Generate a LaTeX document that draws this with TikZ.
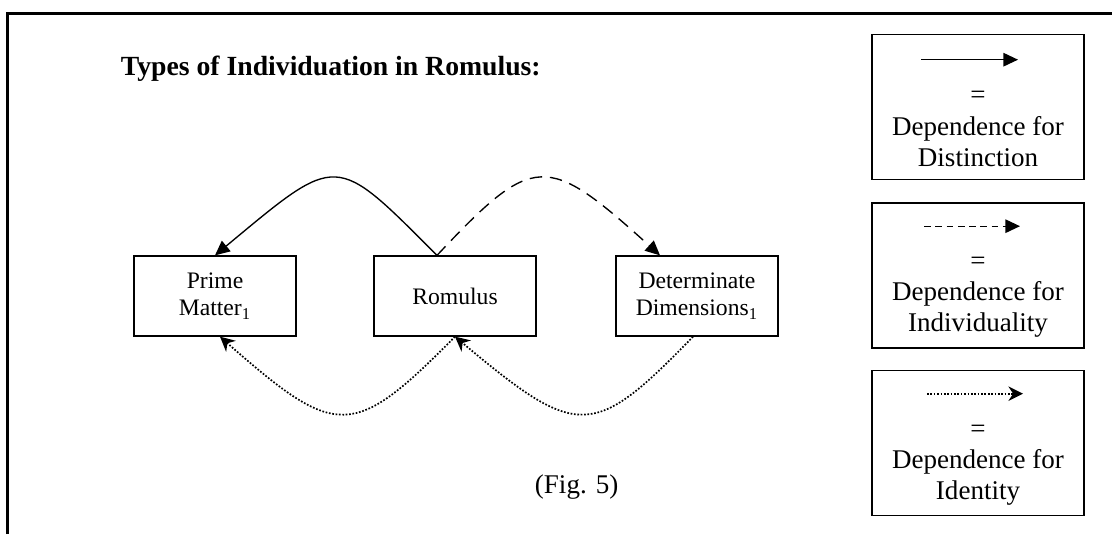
\documentclass[tikz,border=0pt]{standalone}
\usepackage{fontspec}
\setmainfont{Liberation Serif}
\usetikzlibrary{arrows.meta,calc,positioning}
\tikzset{
	ent/.style={draw, line width=0.6pt, minimum width=72pt, minimum height=35.5pt, align=center, inner sep=0pt, font=\fontsize{10.5}{12.4}\selectfont},
	keybox/.style={draw, line width=0.6pt, minimum width=94pt, minimum height=64.5pt, inner sep=0pt},
	keytext/.style={align=center, inner sep=0pt, font=\fontsize{12}{13.8}\selectfont},
	distinct/.style={line width=0.6pt, -{Triangle[length=6.5pt,width=6pt]}},
	indiv/.style={distinct, dash pattern=on 5.5pt off 3.5pt},
	ident/.style={line width=0.75pt, dash pattern=on 0.75pt off 0.75pt, -{Stealth[length=6.5pt,width=6.5pt]}}
}

\begin{document}
\begin{tikzpicture}[x=0.444pt, y=-0.444pt]
		\useasboundingbox (0,0) rectangle (1112,534);
		\draw[line width=0.9pt] (7.5,534) -- (7.5,13.5) -- (1112,13.5);
		\node[anchor=base west, font=\fontsize{12.3}{14}\selectfont\bfseries] (title) at (113,75) {Types of Individuation in Romulus:};
		% the three things
		\node[ent] (pm) at (215,296) {Prime\\Matter\textsubscript{1}};
		\node[ent] (rom) at (455,296) {Romulus};
		\node[ent] (dd) at (697,296) {Determinate\\Dimensions\textsubscript{1}};
		% dependences
		\draw[distinct] ($(rom.north)+(-18,0)$) .. controls +(-103,-103) and +(124,-103) .. (pm.north);
		\draw[indiv] ($(rom.north)+(-18,0)$) .. controls +(97,-103) and +(-114,-103) .. ($(dd.north)+(-37,0)$);
		\draw[ident] (rom.south) .. controls +(-102,103) and +(117,103) .. ($(pm.south)+(5,0)$);
		\draw[ident] ($(dd.south)+(-4,0)$) .. controls +(-100,103) and +(123,103) .. (rom.south);
		\node[anchor=base west, font=\fontsize{12}{14}\selectfont] (fig) at (527,493) {(Fig. 5)};
		% key
		\node[keybox] (key1) at (978,107) {};
		\node[keybox] (key2) at (978,275.5) {};
		\node[keybox] (key3) at (978,443) {};
		\node[keytext] (key1txt) at ($(key1.center)+(0,22)$) {=\\Dependence for\\Distinction};
		\node[keytext] (key2txt) at ($(key2.center)+(0,22)$) {=\\Dependence for\\Individuality};
		\node[keytext] (key3txt) at ($(key3.center)+(0,22)$) {=\\Dependence for\\Identity};
		\coordinate (k1a) at ($(key1.north)+(-57,26)$);
		\coordinate (k1b) at ($(key1.north)+(40,26)$);
		\coordinate (k2a) at ($(key2.north)+(-54,24)$);
		\coordinate (k2b) at ($(key2.north)+(42,24)$);
		\coordinate (k3a) at ($(key3.north)+(-51,24)$);
		\coordinate (k3b) at ($(key3.north)+(45,24)$);
		\draw[distinct] (k1a) -- (k1b);
		\draw[indiv, dash pattern=on 3pt off 2pt] (k2a) -- (k2b);
		\draw[ident] (k3a) -- (k3b);
	\end{tikzpicture}
\end{document}
